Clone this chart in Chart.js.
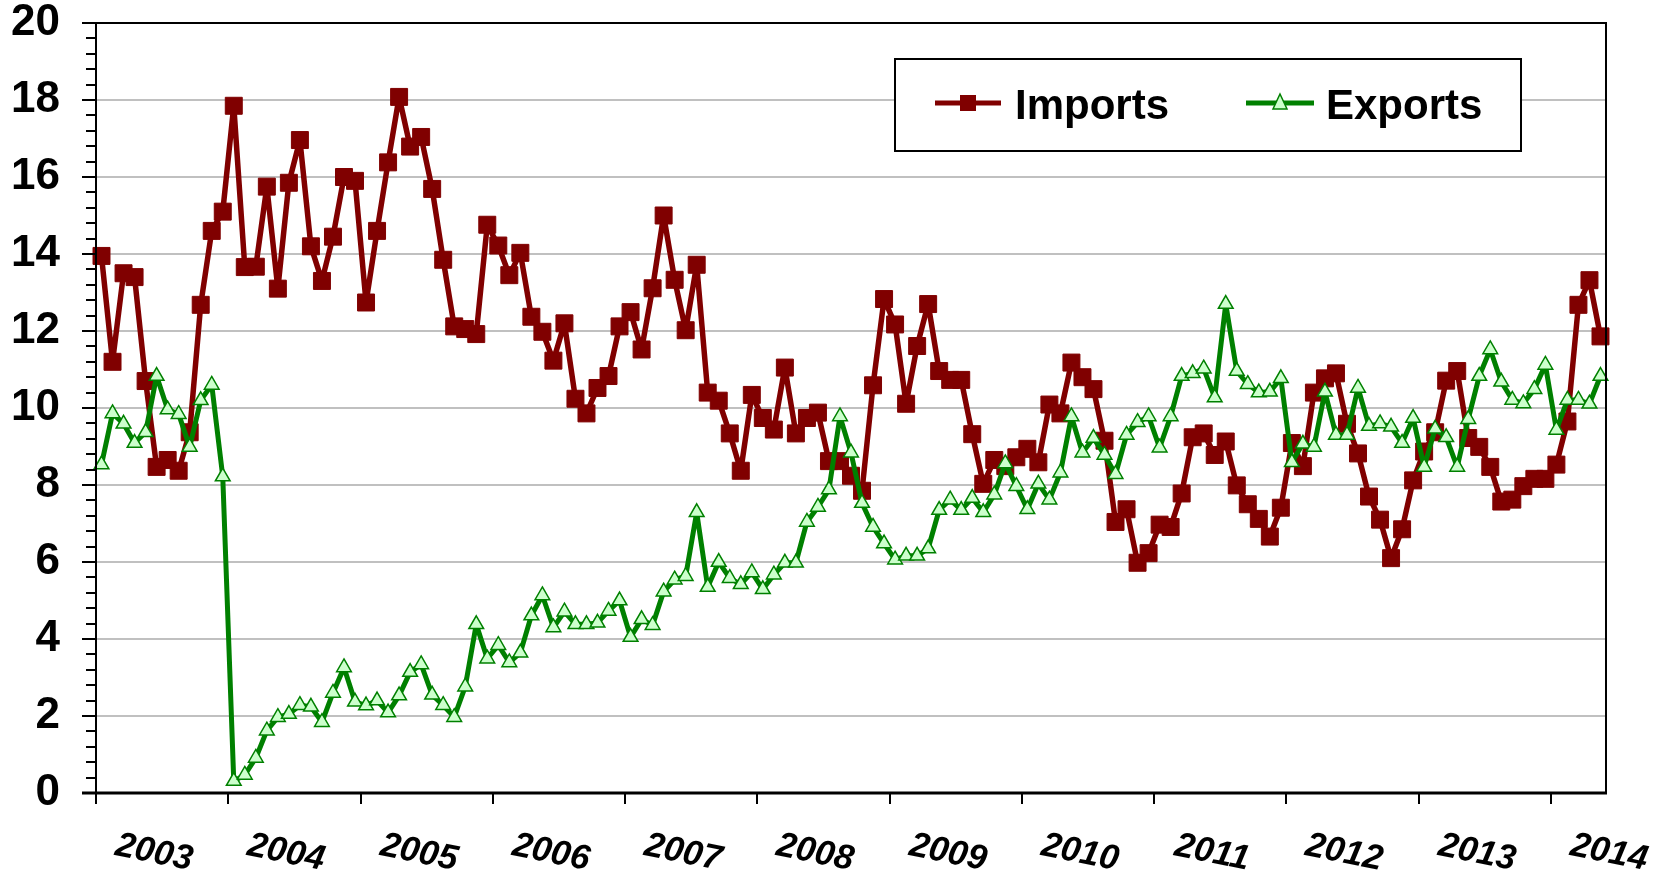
<!DOCTYPE html>
<html><head><meta charset="utf-8">
<script src="https://cdn.jsdelivr.net/npm/chart.js@4.4.1/dist/chart.umd.min.js"></script>
<style>html,body{margin:0;padding:0;background:#fff;}#wrap{width:1667px;height:880px;position:relative;}</style>
</head><body><div id="wrap"><canvas id="c" width="1667" height="880"></canvas></div>
<script>
const years = [2003,2004,2005,2006,2007,2008,2009,2010,2011,2012,2013,2014];
const monthNames = ['Jan','Feb','Mar','Apr','May','Jun','Jul','Aug','Sep','Oct','Nov','Dec'];
const yearLabels = ['2003','2004','2005','2006','2007','2008','2009','2010','2011','2012','2013','2014'];
const seriesNames = ['Imports','Exports'];

const imports = [
  13.95, 11.2, 13.5, 13.4, 10.7, 8.47, 8.65, 8.37, 9.37, 12.68, 14.6, 15.1,
  17.85, 13.66, 13.67, 15.75, 13.1, 15.85, 16.96, 14.2, 13.3, 14.45, 16.0, 15.9,
  12.74, 14.6, 16.38, 18.08, 16.79, 17.04, 15.69, 13.85, 12.12, 12.05, 11.92, 14.76,
  14.22, 13.45, 14.03, 12.37, 11.98, 11.23, 12.2, 10.24, 9.86, 10.52, 10.83, 12.12,
  12.49, 11.52, 13.11, 15.0, 13.33, 12.02, 13.72, 10.4, 10.19, 9.34, 8.37, 10.34,
  9.74, 9.44, 11.05, 9.34, 9.74, 9.88, 8.62, 8.62, 8.24, 7.85, 10.59, 12.83,
  12.17, 10.11, 11.61, 12.7, 10.96, 10.73, 10.73, 9.32, 8.03, 8.65, 8.49, 8.72,
  8.94, 8.59, 10.09, 9.86, 11.18, 10.8, 10.49, 9.15, 7.04, 7.37, 5.98, 6.23,
  6.97, 6.91, 7.78, 9.24, 9.34, 8.78, 9.13, 7.99, 7.5, 7.12, 6.66, 7.41,
  9.09, 8.49, 10.4, 10.77, 10.9, 9.59, 8.82, 7.7, 7.1, 6.1, 6.85, 8.12,
  8.87, 9.37, 10.71, 10.96, 9.22, 8.99, 8.47, 7.57, 7.62, 7.97, 8.16, 8.16,
  8.53, 9.65, 12.68, 13.32, 11.86
];
const exportsData = [
  8.53, 9.86, 9.59, 9.09, 9.37, 10.83, 9.96, 9.84, 8.99, 10.2, 10.6, 8.22,
  0.31, 0.47, 0.91, 1.62, 1.97, 2.05, 2.28, 2.24, 1.84, 2.6, 3.26, 2.37,
  2.27, 2.4, 2.09, 2.53, 3.14, 3.34, 2.55, 2.28, 1.97, 2.76, 4.38, 3.49,
  3.84, 3.39, 3.64, 4.61, 5.13, 4.3, 4.71, 4.38, 4.38, 4.42, 4.73, 5.0,
  4.05, 4.51, 4.36, 5.23, 5.54, 5.63, 7.29, 5.35, 6.0, 5.58, 5.42, 5.73,
  5.29, 5.67, 5.98, 5.98, 7.04, 7.43, 7.88, 9.78, 8.84, 7.53, 6.91, 6.48,
  6.06, 6.16, 6.16, 6.35, 7.35, 7.62, 7.35, 7.66, 7.29, 7.75, 8.56, 7.97,
  7.37, 8.03, 7.62, 8.32, 9.78, 8.84, 9.22, 8.78, 8.28, 9.3, 9.63, 9.78,
  8.97, 9.78, 10.83, 10.9, 11.02, 10.27, 12.7, 10.96, 10.62, 10.4, 10.42, 10.77,
  8.59, 9.07, 8.99, 10.42, 9.3, 9.3, 10.52, 9.53, 9.6, 9.51, 9.09, 9.74,
  8.47, 9.46, 9.24, 8.47, 9.71, 10.83, 11.52, 10.68, 10.21, 10.12, 10.49, 11.12,
  9.43, 10.21, 10.21, 10.11, 10.83
];
const yMin = 0, yMax = 20, yStep = 2, yMinorStep = 0.4;

// month categories built from years x months
const categories = [];
years.forEach(yr => monthNames.forEach(m => { if (categories.length < imports.length) categories.push(m + ' ' + yr); }));

const FONT = '"Liberation Sans", Arial, sans-serif';

const overlay = {
  id: 'overlay',
  afterDraw(chart) {
    const {ctx, chartArea: a, scales: {x, y}} = chart;
    ctx.save();
    ctx.strokeStyle = '#000';
    // plot frame
    ctx.lineWidth = 2;
    ctx.beginPath();
    ctx.moveTo(a.left, a.bottom); ctx.lineTo(a.left, a.top); ctx.lineTo(a.right, a.top); ctx.lineTo(a.right, a.bottom);
    ctx.stroke();
    // y tick marks (major + minor)
    const nMinor = Math.round((yMax - yMin) / yMinorStep);
    const perMajor = Math.round(yStep / yMinorStep);
    for (let i = 0; i <= nMinor; i++) {
      const py = Math.round(y.getPixelForValue(yMin + i * yMinorStep));
      const len = (i % perMajor === 0) ? 14 : 10;
      ctx.beginPath(); ctx.moveTo(a.left - len, py); ctx.lineTo(a.left, py); ctx.stroke();
    }
    // x axis line
    ctx.lineWidth = 3;
    ctx.beginPath(); ctx.moveTo(a.left - 14, a.bottom); ctx.lineTo(a.right + 1, a.bottom); ctx.stroke();
    // x year ticks and labels
    const catW = x.getPixelForValue(1) - x.getPixelForValue(0);
    ctx.lineWidth = 2;
    ctx.fillStyle = '#000';
    ctx.font = 'italic bold 35px ' + FONT;
    ctx.textAlign = 'center';
    ctx.textBaseline = 'middle';
    yearLabels.forEach((lab, k) => {
      const px = Math.round(x.getPixelForValue(k * 12) - catW / 2);
      ctx.beginPath(); ctx.moveTo(px, a.bottom); ctx.lineTo(px, a.bottom + 11); ctx.stroke();
      ctx.save();
      ctx.translate(px + 58, a.bottom + 60);
      ctx.rotate(0.2);
      ctx.fillText(lab, 0, 0);
      ctx.restore();
    });
    // legend
    const lx = a.left + 799, ly = a.top + 36, lw = 626, lh = 92;
    ctx.fillStyle = '#fff';
    ctx.fillRect(lx, ly, lw, lh);
    ctx.lineWidth = 2;
    ctx.strokeStyle = '#000';
    ctx.strokeRect(lx, ly, lw, lh);
    const cy = ly + 44;
    // Imports sample
    ctx.strokeStyle = '#800000'; ctx.lineWidth = 5;
    ctx.beginPath(); ctx.moveTo(lx + 40, cy); ctx.lineTo(lx + 106, cy); ctx.stroke();
    ctx.fillStyle = '#800000';
    ctx.fillRect(lx + 73 - 8, cy - 8, 16, 16);
    // Exports sample
    ctx.strokeStyle = '#008000';
    ctx.beginPath(); ctx.moveTo(lx + 351, cy); ctx.lineTo(lx + 419, cy); ctx.stroke();
    const tx = lx + 385;
    ctx.beginPath(); ctx.moveTo(tx, cy - 9); ctx.lineTo(tx + 7, cy + 6); ctx.lineTo(tx - 7, cy + 6); ctx.closePath();
    ctx.fillStyle = '#ccffcc'; ctx.fill();
    ctx.lineWidth = 1.5; ctx.strokeStyle = '#008000'; ctx.stroke();
    // texts
    ctx.fillStyle = '#000';
    ctx.font = 'bold 42px ' + FONT;
    ctx.textAlign = 'left';
    ctx.textBaseline = 'middle';
    ctx.fillText(seriesNames[0], lx + 120, cy + 4);
    ctx.fillText(seriesNames[1], lx + 431, cy + 4);
    ctx.restore();
  }
};

new Chart(document.getElementById('c'), {
  type: 'line',
  data: {
    labels: categories,
    datasets: [
      {
        label: seriesNames[0], data: imports, order: 2,
        borderColor: '#800000', backgroundColor: '#800000', borderWidth: 5.5,
        borderJoinStyle: 'round',
        pointStyle: 'rect', pointRadius: 12, pointBorderWidth: 1,
        pointBackgroundColor: '#800000', pointBorderColor: '#800000',
        tension: 0, fill: false
      },
      {
        label: seriesNames[1], data: exportsData, order: 1,
        borderColor: '#008000', backgroundColor: '#ccffcc', borderWidth: 5,
        borderJoinStyle: 'round',
        pointStyle: 'triangle', pointRadius: 8.5, pointBorderWidth: 1.5,
        pointBackgroundColor: '#ccffcc', pointBorderColor: '#008000',
        tension: 0, fill: false
      }
    ]
  },
  options: {
    responsive: false,
    animation: false,
    devicePixelRatio: 1,
    layout: { padding: { left: 0, top: 23, right: 61, bottom: 0 } },
    plugins: { legend: { display: false }, tooltip: { enabled: false } },
    scales: {
      x: {
        type: 'category', offset: true,
        grid: { display: false }, border: { display: false },
        ticks: { display: false },
        afterFit: s => { s.height = 87; s.paddingLeft = 0; s.paddingRight = 0; }
      },
      y: {
        min: yMin, max: yMax,
        border: { display: false },
        grid: {
          drawTicks: false, lineWidth: 2,
          color: c => (c.tick && c.tick.value > yMin && c.tick.value < yMax) ? '#c0c0c0' : 'rgba(0,0,0,0)'
        },
        ticks: {
          stepSize: yStep, padding: 36, color: '#000',
          font: { family: FONT, size: 44, weight: 'bold', lineHeight: 1 }
        },
        afterFit: s => { s.width = 96; s.paddingTop = 0; s.paddingBottom = 0; }
      }
    }
  },
  plugins: [overlay]
});
</script>
</body></html>
